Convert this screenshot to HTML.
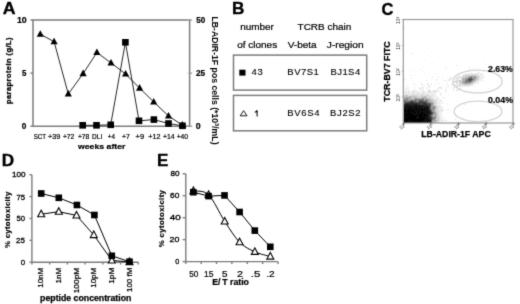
<!DOCTYPE html>
<html><head><meta charset="utf-8"><style>
html,body{margin:0;padding:0;background:#fff;width:520px;height:304px;overflow:hidden}
svg{display:block;font-family:"Liberation Sans",sans-serif;filter:grayscale(1)}

</style></head><body>
<svg width="520" height="304" viewBox="0 0 520 304">
<defs><filter id="soft" filterUnits="userSpaceOnUse" x="0" y="0" width="520" height="304" color-interpolation-filters="sRGB"><feConvolveMatrix order="3" kernelMatrix="1 6 1 6 36 6 1 6 1" divisor="64" edgeMode="duplicate" preserveAlpha="true"/></filter></defs>
<g filter="url(#soft)">
<rect width="520" height="304" fill="#fff"/>
<text x="2.7" y="14.4" font-size="16.8" font-weight="bold" textLength="12.8" lengthAdjust="spacingAndGlyphs" stroke="#000" stroke-width="0.35">A</text>
<path d="M33,20 H189.6 V126.2 H33 Z" fill="none" stroke="#7c7c7c" stroke-width="1.5"/>
<line x1="30.4" y1="20" x2="33" y2="20" stroke="#7c7c7c" stroke-width="1.4"/>
<line x1="189.6" y1="20" x2="192.2" y2="20" stroke="#7c7c7c" stroke-width="1.0"/>
<line x1="187.2" y1="20" x2="189.6" y2="20" stroke="#bbb" stroke-width="0.8"/>
<line x1="30.4" y1="73.1" x2="33" y2="73.1" stroke="#7c7c7c" stroke-width="1.4"/>
<line x1="189.6" y1="73.1" x2="192.2" y2="73.1" stroke="#7c7c7c" stroke-width="1.0"/>
<line x1="187.2" y1="73.1" x2="189.6" y2="73.1" stroke="#bbb" stroke-width="0.8"/>
<line x1="30.4" y1="126.2" x2="33" y2="126.2" stroke="#7c7c7c" stroke-width="1.4"/>
<line x1="189.6" y1="126.2" x2="192.2" y2="126.2" stroke="#7c7c7c" stroke-width="1.0"/>
<line x1="187.2" y1="126.2" x2="189.6" y2="126.2" stroke="#bbb" stroke-width="0.8"/>
<text x="16.9" y="22.8" font-size="8.5" font-weight="bold" textLength="9.8" lengthAdjust="spacingAndGlyphs" stroke="#000" stroke-width="0.2">10</text>
<text x="22.0" y="76.0" font-size="8.5" font-weight="bold" textLength="4.4" lengthAdjust="spacingAndGlyphs" stroke="#000" stroke-width="0.2">5</text>
<text x="21.7" y="129.0" font-size="8.5" font-weight="bold" textLength="4.6" lengthAdjust="spacingAndGlyphs" stroke="#000" stroke-width="0.2">0</text>
<text x="196.3" y="22.8" font-size="8.5" font-weight="bold" textLength="9.0" lengthAdjust="spacingAndGlyphs" stroke="#000" stroke-width="0.2">50</text>
<text x="195.9" y="75.8" font-size="8.5" font-weight="bold" textLength="9.2" lengthAdjust="spacingAndGlyphs" stroke="#000" stroke-width="0.2">25</text>
<text x="195.8" y="129.2" font-size="8.5" font-weight="bold" textLength="4.9" lengthAdjust="spacingAndGlyphs" stroke="#000" stroke-width="0.2">0</text>
<text x="33.7" y="138.8" font-size="7.9" textLength="12.4" lengthAdjust="spacingAndGlyphs" stroke="#000" stroke-width="0.22">SCT</text>
<text x="48.0" y="138.8" font-size="7.9" textLength="12.2" lengthAdjust="spacingAndGlyphs" stroke="#000" stroke-width="0.22">+39</text>
<text x="62.9" y="138.8" font-size="7.9" textLength="11.5" lengthAdjust="spacingAndGlyphs" stroke="#000" stroke-width="0.22">+72</text>
<text x="77.9" y="138.8" font-size="7.9" textLength="11.4" lengthAdjust="spacingAndGlyphs" stroke="#000" stroke-width="0.22">+78</text>
<text x="92.1" y="138.8" font-size="7.9" textLength="10.1" lengthAdjust="spacingAndGlyphs" stroke="#000" stroke-width="0.22">DLI</text>
<text x="107.7" y="138.8" font-size="7.9" textLength="7.2" lengthAdjust="spacingAndGlyphs" stroke="#000" stroke-width="0.22">+4</text>
<text x="121.9" y="138.8" font-size="7.9" textLength="7.9" lengthAdjust="spacingAndGlyphs" stroke="#000" stroke-width="0.22">+7</text>
<text x="135.5" y="138.8" font-size="7.9" textLength="8.6" lengthAdjust="spacingAndGlyphs" stroke="#000" stroke-width="0.22">+9</text>
<text x="148.2" y="138.8" font-size="7.9" textLength="12.2" lengthAdjust="spacingAndGlyphs" stroke="#000" stroke-width="0.22">+12</text>
<text x="163.0" y="138.8" font-size="7.9" textLength="11.7" lengthAdjust="spacingAndGlyphs" stroke="#000" stroke-width="0.22">+14</text>
<text x="176.7" y="138.8" font-size="7.9" textLength="11.4" lengthAdjust="spacingAndGlyphs" stroke="#000" stroke-width="0.22">+40</text>
<text x="78.0" y="149.1" font-size="7.6" font-weight="bold" textLength="47.4" lengthAdjust="spacingAndGlyphs" stroke="#000" stroke-width="0.2">weeks after</text>
<text transform="translate(10.90 104.09) rotate(-90)" font-size="7.4" font-weight="bold" stroke="#000" stroke-width="0.3" textLength="66.66" lengthAdjust="spacing">paraprotein (g/L)</text>
<text transform="translate(211.50 16.43) rotate(90)" font-size="8.6" font-weight="bold" textLength="128.11" lengthAdjust="spacingAndGlyphs">LB-ADIR-1F pos cells (*10<tspan font-size="5.5" dy="-3">3</tspan><tspan dy="3">/mL)</tspan></text>
<polyline points="40.3,34.2 54.1,41.7 68.3,94.0 83.1,73.6 96.9,52.5 111.0,62.9 125.6,74.0 139.6,88.1 153.7,101.9 168.5,116.0 182.3,125.0" fill="none" stroke="#000" stroke-width="0.85"/>
<polyline points="82.7,125.3 96.5,125.3 110.7,124.8 125.4,42.3 139.0,120.8 153.9,119.6 168.5,123.5 182.5,125.8" fill="none" stroke="#000" stroke-width="0.85"/>
<polygon points="40.3,30.2 43.9,36.8 36.7,36.8" fill="#000"/>
<polygon points="54.1,37.7 57.7,44.3 50.5,44.3" fill="#000"/>
<polygon points="68.3,90.0 71.9,96.6 64.7,96.6" fill="#000"/>
<polygon points="83.1,69.6 86.7,76.2 79.5,76.2" fill="#000"/>
<polygon points="96.9,48.5 100.5,55.1 93.3,55.1" fill="#000"/>
<polygon points="111.0,58.9 114.6,65.5 107.4,65.5" fill="#000"/>
<polygon points="125.6,70.0 129.2,76.6 122.0,76.6" fill="#000"/>
<polygon points="139.6,84.1 143.2,90.7 136.0,90.7" fill="#000"/>
<polygon points="153.7,97.9 157.3,104.5 150.1,104.5" fill="#000"/>
<polygon points="168.5,112.0 172.1,118.6 164.9,118.6" fill="#000"/>
<polygon points="182.3,121.0 185.9,127.6 178.7,127.6" fill="#000"/>
<rect x="79.4" y="122.0" width="6.6" height="6.6" fill="#000"/>
<rect x="93.2" y="122.0" width="6.6" height="6.6" fill="#000"/>
<rect x="107.4" y="121.5" width="6.6" height="6.6" fill="#000"/>
<rect x="122.1" y="39.0" width="6.6" height="6.6" fill="#000"/>
<rect x="135.7" y="117.5" width="6.6" height="6.6" fill="#000"/>
<rect x="150.6" y="116.3" width="6.6" height="6.6" fill="#000"/>
<rect x="165.2" y="120.2" width="6.6" height="6.6" fill="#000"/>
<rect x="179.2" y="122.5" width="6.6" height="6.6" fill="#000"/>
<text x="231.9" y="14.3" font-size="16.8" font-weight="bold" textLength="12.4" lengthAdjust="spacingAndGlyphs" stroke="#000" stroke-width="0.35">B</text>
<text x="240.2" y="29.7" font-size="8.6" textLength="33.7" lengthAdjust="spacingAndGlyphs" stroke="#000" stroke-width="0.2">number</text>
<text x="297.6" y="29.7" font-size="8.6" textLength="53.7" lengthAdjust="spacingAndGlyphs" stroke="#000" stroke-width="0.2">TCRB chain</text>
<text x="237.2" y="47.9" font-size="8.6" textLength="40.0" lengthAdjust="spacingAndGlyphs" stroke="#000" stroke-width="0.2">of clones</text>
<text x="287.7" y="48.2" font-size="8.6" textLength="29.0" lengthAdjust="spacingAndGlyphs" stroke="#000" stroke-width="0.2">V-beta</text>
<text x="326.8" y="48.2" font-size="8.6" textLength="36.8" lengthAdjust="spacingAndGlyphs" stroke="#000" stroke-width="0.2">J-region</text>
<rect x="233.5" y="55.1" width="133.2" height="35" fill="none" stroke="#7c7c7c" stroke-width="1.5"/>
<rect x="233.5" y="95.4" width="133.2" height="35.4" fill="none" stroke="#7c7c7c" stroke-width="1.5"/>
<rect x="239.3" y="69.7" width="6.2" height="5.9" fill="#000"/>
<text x="251.58" y="75.40" font-size="9.5" stroke="#000" stroke-width="0.12" textLength="11.34" lengthAdjust="spacing">43</text>
<text x="287.32" y="75.30" font-size="9.5" stroke="#000" stroke-width="0.12" textLength="31.55" lengthAdjust="spacing">BV7S1</text>
<text x="330.42" y="75.30" font-size="9.5" stroke="#000" stroke-width="0.12" textLength="29.76" lengthAdjust="spacing">BJ1S4</text>
<polygon points="243.6,110.7 247.0,115.8 240.2,115.8" fill="none" stroke="#000" stroke-width="0.9"/>
<path d="M257.1,110.3 V116.6 M257.0,110.6 Q256.2,111.8 254.8,112.3" fill="none" stroke="#000" stroke-width="1.05"/>
<text x="287.32" y="116.00" font-size="9.5" stroke="#000" stroke-width="0.12" textLength="32.26" lengthAdjust="spacing">BV6S4</text>
<text x="330.12" y="116.00" font-size="9.5" stroke="#000" stroke-width="0.12" textLength="30.46" lengthAdjust="spacing">BJ2S2</text>
<text x="381.6" y="14.6" font-size="16.8" font-weight="bold" textLength="11.9" lengthAdjust="spacingAndGlyphs" stroke="#000" stroke-width="0.35">C</text>
<defs><filter id="sb" x="-5%" y="-5%" width="110%" height="110%"><feGaussianBlur stdDeviation="0.45"/></filter><clipPath id="cc"><rect x="403.3" y="19.5" width="109.7" height="103.5"/></clipPath></defs>
<g clip-path="url(#cc)"><path d="M444 39h1v1h-1zM456 43h1v1h-1zM428 48h1v1h-1zM406 51h1v1h-1zM488 51h1v1h-1zM431 52h1v1h-1zM468 53h1v1h-1zM472 55h1v1h-1zM483 57h1v1h-1zM420 60h1v1h-1zM424 60h1v1h-1zM484 60h1v1h-1zM446 61h1v1h-1zM431 62h1v1h-1zM410 63h1v1h-1zM432 63h1v1h-1zM486 64h1v1h-1zM423 66h1v1h-1zM469 67h1v1h-1zM478 67h1v1h-1zM413 68h1v1h-1zM469 68h1v1h-1zM473 68h1v1h-1zM409 70h1v1h-1zM470 70h1v1h-1zM474 70h1v1h-1zM412 71h1v1h-1zM423 71h1v1h-1zM476 71h1v1h-1zM465 72h1v1h-1zM471 72h1v1h-1zM477 72h3v1h-3zM424 73h1v1h-1zM434 73h1v1h-1zM462 73h1v1h-1zM465 73h1v1h-1zM468 73h3v1h-3zM472 73h5v1h-5zM478 73h5v1h-5zM415 74h1v1h-1zM428 74h1v1h-1zM463 74h2v1h-2zM466 74h1v1h-1zM470 74h1v1h-1zM478 74h3v1h-3zM482 74h1v1h-1zM413 75h1v1h-1zM462 75h1v1h-1zM479 75h5v1h-5zM437 76h1v1h-1zM442 76h1v1h-1zM458 76h1v1h-1zM460 76h2v1h-2zM480 76h4v1h-4zM411 77h1v1h-1zM422 77h1v1h-1zM438 77h1v1h-1zM450 77h2v1h-2zM456 77h1v1h-1zM459 77h1v1h-1zM461 77h1v1h-1zM480 77h2v1h-2zM483 77h2v1h-2zM404 78h1v1h-1zM411 78h1v1h-1zM428 78h1v1h-1zM442 78h1v1h-1zM449 78h1v1h-1zM456 78h1v1h-1zM458 78h1v1h-1zM460 78h1v1h-1zM480 78h1v1h-1zM482 78h1v1h-1zM404 79h1v1h-1zM406 79h1v1h-1zM431 79h1v1h-1zM435 79h1v1h-1zM437 79h1v1h-1zM448 79h1v1h-1zM450 79h1v1h-1zM457 79h4v1h-4zM479 79h3v1h-3zM435 80h1v1h-1zM437 80h1v1h-1zM445 80h1v1h-1zM449 80h1v1h-1zM455 80h2v1h-2zM479 80h4v1h-4zM404 81h1v1h-1zM407 81h1v1h-1zM446 81h1v1h-1zM453 81h1v1h-1zM477 81h2v1h-2zM482 81h1v1h-1zM420 82h2v1h-2zM442 82h1v1h-1zM452 82h4v1h-4zM457 82h2v1h-2zM476 82h3v1h-3zM406 83h1v1h-1zM414 83h1v1h-1zM428 83h1v1h-1zM431 83h1v1h-1zM434 83h1v1h-1zM436 83h1v1h-1zM438 83h1v1h-1zM440 83h1v1h-1zM447 83h1v1h-1zM452 83h1v1h-1zM456 83h2v1h-2zM474 83h3v1h-3zM478 83h1v1h-1zM413 84h2v1h-2zM421 84h1v1h-1zM427 84h1v1h-1zM430 84h2v1h-2zM438 84h1v1h-1zM445 84h1v1h-1zM447 84h1v1h-1zM450 84h2v1h-2zM453 84h1v1h-1zM455 84h1v1h-1zM457 84h2v1h-2zM473 84h1v1h-1zM502 84h1v1h-1zM406 85h1v1h-1zM416 85h1v1h-1zM421 85h2v1h-2zM424 85h1v1h-1zM427 85h3v1h-3zM448 85h1v1h-1zM452 85h5v1h-5zM458 85h1v1h-1zM461 85h1v1h-1zM470 85h3v1h-3zM404 86h1v1h-1zM407 86h1v1h-1zM414 86h1v1h-1zM428 86h1v1h-1zM434 86h1v1h-1zM441 86h1v1h-1zM444 86h1v1h-1zM447 86h2v1h-2zM453 86h1v1h-1zM456 86h1v1h-1zM458 86h2v1h-2zM461 86h9v1h-9zM474 86h1v1h-1zM407 87h2v1h-2zM414 87h1v1h-1zM419 87h1v1h-1zM421 87h1v1h-1zM423 87h2v1h-2zM427 87h1v1h-1zM430 87h1v1h-1zM438 87h1v1h-1zM441 87h1v1h-1zM447 87h1v1h-1zM451 87h1v1h-1zM453 87h2v1h-2zM457 87h1v1h-1zM460 87h1v1h-1zM492 87h1v1h-1zM405 88h4v1h-4zM414 88h1v1h-1zM420 88h4v1h-4zM426 88h2v1h-2zM437 88h4v1h-4zM446 88h1v1h-1zM457 88h3v1h-3zM488 88h1v1h-1zM498 88h1v1h-1zM405 89h4v1h-4zM414 89h1v1h-1zM419 89h4v1h-4zM427 89h3v1h-3zM437 89h1v1h-1zM444 89h2v1h-2zM453 89h1v1h-1zM457 89h4v1h-4zM468 89h1v1h-1zM405 90h2v1h-2zM408 90h2v1h-2zM411 90h6v1h-6zM421 90h3v1h-3zM430 90h1v1h-1zM432 90h1v1h-1zM435 90h2v1h-2zM438 90h1v1h-1zM445 90h2v1h-2zM458 90h1v1h-1zM404 91h4v1h-4zM409 91h1v1h-1zM411 91h1v1h-1zM415 91h3v1h-3zM419 91h1v1h-1zM421 91h2v1h-2zM424 91h4v1h-4zM431 91h4v1h-4zM436 91h2v1h-2zM439 91h1v1h-1zM467 91h1v1h-1zM404 92h1v1h-1zM406 92h1v1h-1zM410 92h3v1h-3zM414 92h3v1h-3zM418 92h1v1h-1zM420 92h4v1h-4zM425 92h5v1h-5zM431 92h2v1h-2zM434 92h1v1h-1zM436 92h1v1h-1zM404 93h1v1h-1zM406 93h6v1h-6zM414 93h3v1h-3zM419 93h3v1h-3zM424 93h4v1h-4zM429 93h7v1h-7zM441 93h1v1h-1zM446 93h1v1h-1zM404 94h1v1h-1zM409 94h2v1h-2zM418 94h2v1h-2zM425 94h1v1h-1zM429 94h7v1h-7zM440 94h2v1h-2zM430 95h1v1h-1zM433 95h3v1h-3zM440 95h1v1h-1zM448 95h1v1h-1zM432 96h6v1h-6zM433 97h2v1h-2zM436 97h3v1h-3zM442 97h2v1h-2zM460 97h1v1h-1zM474 97h1v1h-1zM433 98h4v1h-4zM438 98h1v1h-1zM444 98h1v1h-1zM436 99h5v1h-5zM437 100h3v1h-3zM441 100h1v1h-1zM482 100h1v1h-1zM437 101h6v1h-6zM437 102h3v1h-3zM442 102h1v1h-1zM437 103h7v1h-7zM447 103h1v1h-1zM436 104h5v1h-5zM447 104h1v1h-1zM438 105h3v1h-3zM439 106h4v1h-4zM460 106h1v1h-1zM440 107h3v1h-3zM463 107h1v1h-1zM439 108h2v1h-2zM442 108h1v1h-1zM477 108h1v1h-1zM439 109h5v1h-5zM446 109h2v1h-2zM439 110h1v1h-1zM443 110h1v1h-1zM440 111h1v1h-1zM442 111h1v1h-1zM461 111h1v1h-1zM439 112h3v1h-3zM439 113h3v1h-3zM439 114h3v1h-3zM491 114h1v1h-1zM440 115h2v1h-2zM444 115h1v1h-1zM440 116h1v1h-1zM442 116h1v1h-1zM440 117h3v1h-3zM462 117h1v1h-1zM440 118h3v1h-3zM440 119h3v1h-3zM444 119h1v1h-1zM440 120h1v1h-1zM442 120h4v1h-4zM439 121h4v1h-4zM440 122h4v1h-4zM452 122h1v1h-1z" fill="#efefef"/><path d="M404 28h1v1h-1zM411 53h1v1h-1zM456 65h1v1h-1zM445 68h1v1h-1zM420 69h1v1h-1zM470 69h1v1h-1zM468 71h1v1h-1zM483 71h1v1h-1zM471 73h1v1h-1zM477 73h1v1h-1zM467 74h1v1h-1zM469 74h1v1h-1zM471 74h7v1h-7zM481 74h1v1h-1zM410 75h1v1h-1zM464 75h2v1h-2zM468 75h1v1h-1zM476 75h1v1h-1zM478 75h1v1h-1zM463 76h1v1h-1zM479 76h1v1h-1zM432 77h1v1h-1zM458 77h1v1h-1zM462 77h1v1h-1zM479 77h1v1h-1zM450 78h2v1h-2zM461 78h1v1h-1zM478 78h2v1h-2zM481 78h1v1h-1zM449 79h1v1h-1zM455 79h2v1h-2zM461 79h1v1h-1zM426 80h1v1h-1zM444 80h1v1h-1zM448 80h1v1h-1zM458 80h1v1h-1zM461 80h1v1h-1zM476 80h3v1h-3zM454 81h1v1h-1zM458 81h1v1h-1zM476 81h1v1h-1zM459 82h1v1h-1zM474 82h2v1h-2zM427 83h1v1h-1zM458 83h3v1h-3zM473 83h1v1h-1zM422 84h1v1h-1zM452 84h1v1h-1zM456 84h1v1h-1zM460 84h1v1h-1zM462 84h1v1h-1zM471 84h2v1h-2zM457 85h1v1h-1zM459 85h2v1h-2zM462 85h4v1h-4zM467 85h3v1h-3zM429 86h1v1h-1zM454 86h2v1h-2zM460 86h1v1h-1zM422 87h1v1h-1zM439 87h2v1h-2zM419 88h1v1h-1zM441 88h1v1h-1zM453 88h1v1h-1zM460 88h1v1h-1zM428 90h2v1h-2zM433 90h2v1h-2zM437 90h1v1h-1zM453 90h1v1h-1zM456 90h2v1h-2zM408 91h1v1h-1zM412 91h3v1h-3zM423 91h1v1h-1zM428 91h1v1h-1zM430 91h1v1h-1zM435 91h1v1h-1zM445 91h1v1h-1zM405 92h1v1h-1zM407 92h3v1h-3zM413 92h1v1h-1zM417 92h1v1h-1zM419 92h1v1h-1zM424 92h1v1h-1zM430 92h1v1h-1zM433 92h1v1h-1zM435 92h1v1h-1zM405 93h1v1h-1zM412 93h2v1h-2zM417 93h2v1h-2zM422 93h2v1h-2zM428 93h1v1h-1zM440 93h1v1h-1zM405 94h4v1h-4zM411 94h7v1h-7zM420 94h5v1h-5zM426 94h3v1h-3zM408 95h4v1h-4zM414 95h1v1h-1zM416 95h1v1h-1zM418 95h4v1h-4zM423 95h4v1h-4zM428 95h2v1h-2zM431 95h2v1h-2zM418 96h2v1h-2zM427 96h2v1h-2zM430 96h2v1h-2zM427 97h1v1h-1zM430 97h3v1h-3zM431 98h2v1h-2zM437 98h1v1h-1zM433 99h3v1h-3zM434 100h3v1h-3zM440 100h1v1h-1zM434 101h3v1h-3zM435 102h2v1h-2zM434 103h1v1h-1zM436 103h1v1h-1zM435 104h1v1h-1zM464 104h1v1h-1zM436 105h2v1h-2zM437 106h2v1h-2zM437 107h3v1h-3zM437 108h2v1h-2zM441 108h1v1h-1zM438 109h1v1h-1zM448 109h1v1h-1zM436 110h3v1h-3zM440 110h3v1h-3zM436 111h1v1h-1zM438 111h2v1h-2zM441 111h1v1h-1zM438 112h1v1h-1zM438 113h1v1h-1zM438 114h1v1h-1zM438 115h2v1h-2zM438 116h2v1h-2zM439 117h1v1h-1zM439 118h1v1h-1zM439 119h1v1h-1zM455 119h1v1h-1zM439 120h1v1h-1zM441 120h1v1h-1zM446 120h1v1h-1zM438 121h1v1h-1zM438 122h2v1h-2z" fill="#dfdfdf"/><path d="M465 74h1v1h-1zM468 74h1v1h-1zM463 75h1v1h-1zM466 75h2v1h-2zM469 75h3v1h-3zM474 75h1v1h-1zM477 75h1v1h-1zM459 76h1v1h-1zM462 76h1v1h-1zM464 76h2v1h-2zM467 76h1v1h-1zM476 76h3v1h-3zM457 77h1v1h-1zM460 77h1v1h-1zM463 77h2v1h-2zM478 77h1v1h-1zM457 78h1v1h-1zM477 78h1v1h-1zM477 79h2v1h-2zM457 80h1v1h-1zM459 80h2v1h-2zM455 81h3v1h-3zM459 81h1v1h-1zM461 81h1v1h-1zM475 81h1v1h-1zM460 82h2v1h-2zM473 82h1v1h-1zM461 83h1v1h-1zM471 83h2v1h-2zM459 84h1v1h-1zM461 84h1v1h-1zM463 84h2v1h-2zM467 84h4v1h-4zM466 85h1v1h-1zM457 86h1v1h-1zM429 91h1v1h-1zM404 95h2v1h-2zM407 95h1v1h-1zM412 95h2v1h-2zM415 95h1v1h-1zM417 95h1v1h-1zM422 95h1v1h-1zM427 95h1v1h-1zM408 96h1v1h-1zM412 96h1v1h-1zM415 96h3v1h-3zM420 96h4v1h-4zM426 96h1v1h-1zM429 96h1v1h-1zM412 97h2v1h-2zM417 97h5v1h-5zM428 97h2v1h-2zM413 98h1v1h-1zM428 98h1v1h-1zM430 98h1v1h-1zM431 99h2v1h-2zM433 100h1v1h-1zM432 101h2v1h-2zM434 102h1v1h-1zM435 103h1v1h-1zM434 104h1v1h-1zM435 105h1v1h-1zM436 106h1v1h-1zM436 107h1v1h-1zM436 108h1v1h-1zM436 109h2v1h-2zM435 110h1v1h-1zM437 111h1v1h-1zM436 112h2v1h-2zM437 113h1v1h-1zM437 114h1v1h-1zM437 115h1v1h-1zM437 116h1v1h-1zM437 117h2v1h-2zM436 118h3v1h-3zM436 119h3v1h-3zM437 120h2v1h-2zM437 121h1v1h-1zM435 122h3v1h-3z" fill="#cfcfcf"/><path d="M472 75h2v1h-2zM475 75h1v1h-1zM466 76h1v1h-1zM466 77h1v1h-1zM477 77h1v1h-1zM465 78h1v1h-1zM476 78h1v1h-1zM462 79h1v1h-1zM476 79h1v1h-1zM462 80h1v1h-1zM475 80h1v1h-1zM473 81h2v1h-2zM456 82h1v1h-1zM472 82h1v1h-1zM462 83h1v1h-1zM470 83h1v1h-1zM465 84h2v1h-2zM406 95h1v1h-1zM404 96h4v1h-4zM409 96h1v1h-1zM411 96h1v1h-1zM413 96h2v1h-2zM424 96h2v1h-2zM405 97h1v1h-1zM411 97h1v1h-1zM414 97h1v1h-1zM416 97h1v1h-1zM426 97h1v1h-1zM410 98h3v1h-3zM420 98h1v1h-1zM426 98h2v1h-2zM429 98h1v1h-1zM429 99h2v1h-2zM431 100h2v1h-2zM431 101h1v1h-1zM433 104h1v1h-1zM433 105h2v1h-2zM435 109h1v1h-1zM435 111h1v1h-1zM436 113h1v1h-1zM436 114h1v1h-1zM436 117h1v1h-1zM435 121h2v1h-2z" fill="#bfbfbf"/><path d="M468 76h2v1h-2zM472 76h4v1h-4zM465 77h1v1h-1zM467 77h2v1h-2zM476 77h1v1h-1zM462 78h3v1h-3zM475 78h1v1h-1zM463 79h2v1h-2zM475 79h1v1h-1zM464 80h1v1h-1zM474 80h1v1h-1zM460 81h1v1h-1zM462 81h2v1h-2zM472 81h1v1h-1zM462 82h1v1h-1zM463 83h2v1h-2zM466 83h4v1h-4zM410 96h1v1h-1zM404 97h1v1h-1zM406 97h1v1h-1zM408 97h3v1h-3zM415 97h1v1h-1zM422 97h4v1h-4zM405 98h1v1h-1zM414 98h1v1h-1zM417 98h3v1h-3zM421 98h1v1h-1zM424 98h2v1h-2zM408 99h1v1h-1zM410 99h1v1h-1zM413 99h1v1h-1zM424 99h2v1h-2zM428 99h1v1h-1zM429 100h2v1h-2zM429 101h2v1h-2zM432 102h2v1h-2zM433 103h1v1h-1zM435 106h1v1h-1zM435 107h1v1h-1zM435 108h1v1h-1zM434 110h1v1h-1zM435 112h1v1h-1zM433 115h4v1h-4zM433 116h1v1h-1zM436 116h1v1h-1zM435 119h1v1h-1zM433 120h1v1h-1zM436 120h1v1h-1zM433 121h2v1h-2zM434 122h1v1h-1z" fill="#afafaf"/><path d="M470 76h2v1h-2zM472 77h2v1h-2zM466 78h1v1h-1zM474 78h1v1h-1zM465 79h1v1h-1zM474 79h1v1h-1zM463 80h1v1h-1zM473 80h1v1h-1zM464 81h1v1h-1zM463 82h2v1h-2zM470 82h2v1h-2zM465 83h1v1h-1zM407 97h1v1h-1zM404 98h1v1h-1zM408 98h2v1h-2zM415 98h2v1h-2zM423 98h1v1h-1zM409 99h1v1h-1zM411 99h2v1h-2zM414 99h1v1h-1zM408 100h2v1h-2zM428 100h1v1h-1zM428 101h1v1h-1zM430 102h2v1h-2zM432 103h1v1h-1zM432 105h1v1h-1zM432 106h3v1h-3zM431 107h2v1h-2zM434 108h1v1h-1zM434 109h1v1h-1zM432 110h2v1h-2zM434 111h1v1h-1zM434 113h2v1h-2zM433 114h3v1h-3zM434 116h2v1h-2zM435 118h1v1h-1zM434 120h2v1h-2zM432 121h1v1h-1z" fill="#9f9f9f"/><path d="M469 77h1v1h-1zM474 77h2v1h-2zM467 78h1v1h-1zM472 78h2v1h-2zM465 80h1v1h-1zM472 80h1v1h-1zM471 81h1v1h-1zM465 82h1v1h-1zM467 82h2v1h-2zM406 98h2v1h-2zM422 98h1v1h-1zM404 99h2v1h-2zM407 99h1v1h-1zM417 99h1v1h-1zM426 99h2v1h-2zM407 100h1v1h-1zM417 100h1v1h-1zM424 100h1v1h-1zM417 101h1v1h-1zM427 101h1v1h-1zM429 102h1v1h-1zM431 103h1v1h-1zM431 104h2v1h-2zM431 105h1v1h-1zM431 106h1v1h-1zM434 107h1v1h-1zM431 108h3v1h-3zM432 109h2v1h-2zM432 111h2v1h-2zM434 112h1v1h-1zM433 113h1v1h-1zM432 115h1v1h-1zM432 116h1v1h-1zM434 117h2v1h-2zM433 119h2v1h-2zM432 120h1v1h-1zM432 122h2v1h-2z" fill="#8f8f8f"/><path d="M470 77h1v1h-1zM468 78h1v1h-1zM466 79h2v1h-2zM473 79h1v1h-1zM466 80h1v1h-1zM465 81h2v1h-2zM468 81h1v1h-1zM466 82h1v1h-1zM469 82h1v1h-1zM406 99h1v1h-1zM415 99h2v1h-2zM418 99h4v1h-4zM423 99h1v1h-1zM405 100h2v1h-2zM410 100h5v1h-5zM416 100h1v1h-1zM418 100h1v1h-1zM423 100h1v1h-1zM425 100h1v1h-1zM427 100h1v1h-1zM407 101h1v1h-1zM416 101h1v1h-1zM427 102h2v1h-2zM431 109h1v1h-1zM433 112h1v1h-1zM433 117h1v1h-1zM434 118h1v1h-1zM432 119h1v1h-1z" fill="#808080"/><path d="M471 77h1v1h-1zM470 78h1v1h-1zM472 79h1v1h-1zM467 80h2v1h-2zM471 80h1v1h-1zM469 81h2v1h-2zM422 99h1v1h-1zM404 100h1v1h-1zM415 100h1v1h-1zM419 100h1v1h-1zM426 100h1v1h-1zM405 101h2v1h-2zM408 101h1v1h-1zM414 101h1v1h-1zM418 101h1v1h-1zM426 101h1v1h-1zM430 103h1v1h-1zM430 107h1v1h-1zM433 107h1v1h-1zM430 108h1v1h-1zM431 110h1v1h-1zM432 114h1v1h-1zM431 115h1v1h-1zM431 116h1v1h-1zM432 117h1v1h-1zM433 118h1v1h-1z" fill="#707070"/><path d="M469 78h1v1h-1zM471 78h1v1h-1zM468 79h1v1h-1zM467 81h1v1h-1zM420 100h3v1h-3zM404 101h1v1h-1zM409 101h1v1h-1zM415 101h1v1h-1zM423 101h3v1h-3zM404 102h1v1h-1zM417 102h1v1h-1zM426 102h1v1h-1zM404 103h1v1h-1zM428 103h2v1h-2zM430 104h1v1h-1zM430 105h1v1h-1zM430 106h1v1h-1zM430 109h1v1h-1zM431 111h1v1h-1zM432 112h1v1h-1zM432 113h1v1h-1zM432 118h1v1h-1z" fill="#606060"/><path d="M471 79h1v1h-1zM469 80h1v1h-1zM410 101h1v1h-1zM413 101h1v1h-1zM419 101h4v1h-4zM405 102h4v1h-4zM414 102h3v1h-3zM418 102h1v1h-1zM421 103h1v1h-1zM427 103h1v1h-1zM428 104h1v1h-1zM431 114h1v1h-1zM430 115h1v1h-1zM431 117h1v1h-1zM431 120h1v1h-1zM431 121h1v1h-1zM431 122h1v1h-1z" fill="#505050"/><path d="M469 79h2v1h-2zM470 80h1v1h-1zM411 101h2v1h-2zM409 102h2v1h-2zM413 102h1v1h-1zM419 102h7v1h-7zM405 103h1v1h-1zM417 103h4v1h-4zM422 103h1v1h-1zM425 103h2v1h-2zM404 104h1v1h-1zM420 104h3v1h-3zM427 104h1v1h-1zM429 104h1v1h-1zM428 105h2v1h-2zM429 106h1v1h-1zM429 108h1v1h-1zM430 110h1v1h-1zM431 112h1v1h-1zM431 113h1v1h-1zM430 116h1v1h-1zM431 118h1v1h-1zM431 119h1v1h-1z" fill="#404040"/><path d="M411 102h2v1h-2zM406 103h11v1h-11zM423 103h2v1h-2zM411 104h1v1h-1zM417 104h3v1h-3zM423 104h4v1h-4zM424 105h4v1h-4zM428 106h1v1h-1zM429 107h1v1h-1zM429 109h1v1h-1zM429 110h1v1h-1zM430 111h1v1h-1zM430 114h1v1h-1zM429 115h1v1h-1zM429 116h1v1h-1zM430 117h1v1h-1zM430 118h1v1h-1zM430 119h1v1h-1z" fill="#303030"/><path d="M405 104h1v1h-1zM407 104h4v1h-4zM412 104h5v1h-5zM404 105h2v1h-2zM408 105h2v1h-2zM411 105h4v1h-4zM417 105h7v1h-7zM406 106h1v1h-1zM423 106h3v1h-3zM427 106h1v1h-1zM423 107h1v1h-1zM428 107h1v1h-1zM428 108h1v1h-1zM429 111h1v1h-1zM429 112h2v1h-2zM429 113h2v1h-2zM428 114h2v1h-2zM428 115h1v1h-1zM428 116h1v1h-1zM428 117h2v1h-2zM428 118h2v1h-2zM429 119h1v1h-1zM430 120h1v1h-1zM430 121h1v1h-1zM430 122h1v1h-1z" fill="#202020"/><path d="M406 104h1v1h-1zM406 105h2v1h-2zM410 105h1v1h-1zM415 105h2v1h-2zM404 106h2v1h-2zM407 106h16v1h-16zM426 106h1v1h-1zM404 107h4v1h-4zM409 107h7v1h-7zM417 107h6v1h-6zM424 107h4v1h-4zM404 108h4v1h-4zM409 108h6v1h-6zM416 108h12v1h-12zM406 109h2v1h-2zM409 109h1v1h-1zM412 109h4v1h-4zM417 109h2v1h-2zM420 109h1v1h-1zM423 109h1v1h-1zM425 109h4v1h-4zM406 110h2v1h-2zM411 110h1v1h-1zM414 110h2v1h-2zM417 110h5v1h-5zM423 110h6v1h-6zM410 111h2v1h-2zM415 111h3v1h-3zM419 111h10v1h-10zM405 112h2v1h-2zM410 112h3v1h-3zM415 112h3v1h-3zM419 112h2v1h-2zM423 112h6v1h-6zM404 113h3v1h-3zM412 113h3v1h-3zM416 113h5v1h-5zM423 113h6v1h-6zM409 114h1v1h-1zM413 114h4v1h-4zM421 114h1v1h-1zM423 114h1v1h-1zM425 114h3v1h-3zM414 115h1v1h-1zM417 115h2v1h-2zM427 115h1v1h-1zM405 116h1v1h-1zM407 116h1v1h-1zM417 116h2v1h-2zM422 116h6v1h-6zM405 117h2v1h-2zM416 117h3v1h-3zM423 117h1v1h-1zM425 117h3v1h-3zM404 118h1v1h-1zM416 118h2v1h-2zM419 118h1v1h-1zM425 118h3v1h-3zM424 119h5v1h-5zM408 120h2v1h-2zM417 120h1v1h-1zM420 120h1v1h-1zM424 120h6v1h-6zM404 121h1v1h-1zM409 121h3v1h-3zM413 121h2v1h-2zM422 121h8v1h-8zM405 122h1v1h-1zM407 122h4v1h-4zM412 122h2v1h-2zM417 122h1v1h-1zM419 122h1v1h-1zM422 122h5v1h-5zM428 122h2v1h-2z" fill="#101010"/><path d="M408 107h1v1h-1zM416 107h1v1h-1zM408 108h1v1h-1zM415 108h1v1h-1zM404 109h2v1h-2zM408 109h1v1h-1zM410 109h2v1h-2zM416 109h1v1h-1zM419 109h1v1h-1zM421 109h2v1h-2zM424 109h1v1h-1zM404 110h2v1h-2zM408 110h3v1h-3zM412 110h2v1h-2zM416 110h1v1h-1zM422 110h1v1h-1zM404 111h6v1h-6zM412 111h3v1h-3zM418 111h1v1h-1zM404 112h1v1h-1zM407 112h3v1h-3zM413 112h2v1h-2zM418 112h1v1h-1zM421 112h2v1h-2zM407 113h5v1h-5zM415 113h1v1h-1zM421 113h2v1h-2zM404 114h5v1h-5zM410 114h3v1h-3zM417 114h4v1h-4zM422 114h1v1h-1zM424 114h1v1h-1zM404 115h10v1h-10zM415 115h2v1h-2zM419 115h8v1h-8zM404 116h1v1h-1zM406 116h1v1h-1zM408 116h9v1h-9zM419 116h3v1h-3zM404 117h1v1h-1zM407 117h9v1h-9zM419 117h4v1h-4zM424 117h1v1h-1zM405 118h11v1h-11zM418 118h1v1h-1zM420 118h5v1h-5zM404 119h20v1h-20zM404 120h4v1h-4zM410 120h7v1h-7zM418 120h2v1h-2zM421 120h3v1h-3zM405 121h4v1h-4zM412 121h1v1h-1zM415 121h7v1h-7zM404 122h1v1h-1zM406 122h1v1h-1zM411 122h1v1h-1zM414 122h3v1h-3zM418 122h1v1h-1zM420 122h2v1h-2zM427 122h1v1h-1z" fill="#000000"/></g>
<rect x="403.3" y="19.5" width="109.7" height="103.5" fill="none" stroke="#999" stroke-width="1.2"/>
<ellipse cx="477.5" cy="81.5" rx="24.6" ry="11.4" fill="none" stroke="#d4d4d4" stroke-width="1.3"/>
<ellipse cx="478" cy="111.4" rx="23.9" ry="10.3" fill="none" stroke="#d4d4d4" stroke-width="1.3"/>
<text x="488.1" y="71.6" font-size="8.4" font-weight="bold" textLength="24.7" lengthAdjust="spacingAndGlyphs" stroke="#000" stroke-width="0.2">2.63%</text>
<text x="488.0" y="103.2" font-size="8.4" font-weight="bold" textLength="25.0" lengthAdjust="spacingAndGlyphs" stroke="#000" stroke-width="0.2">0.04%</text>
<text x="421.3" y="137.4" font-size="8.6" font-weight="bold" textLength="69.4" lengthAdjust="spacingAndGlyphs" stroke="#000" stroke-width="0.25">LB-ADIR-1F APC</text>
<text transform="translate(390.20 101.70) rotate(-90)" font-size="8.8" font-weight="bold" stroke="#000" stroke-width="0.25" textLength="60.44" lengthAdjust="spacingAndGlyphs">TCR-BV7 FITC</text>
<text transform="translate(400.4 97.9) rotate(-90)" font-size="4.9" text-anchor="middle" fill="#333">10<tspan font-size="3.4" dy="-1.8">1</tspan></text>
<line x1="401.6" y1="97.125" x2="403.3" y2="97.125" stroke="#aaa" stroke-width="0.8"/>
<text transform="translate(400.4 72.0) rotate(-90)" font-size="4.9" text-anchor="middle" fill="#333">10<tspan font-size="3.4" dy="-1.8">2</tspan></text>
<line x1="401.6" y1="71.25" x2="403.3" y2="71.25" stroke="#aaa" stroke-width="0.8"/>
<text transform="translate(400.4 46.2) rotate(-90)" font-size="4.9" text-anchor="middle" fill="#333">10<tspan font-size="3.4" dy="-1.8">3</tspan></text>
<line x1="401.6" y1="45.375" x2="403.3" y2="45.375" stroke="#aaa" stroke-width="0.8"/>
<text transform="translate(400.4 20.3) rotate(-90)" font-size="4.9" text-anchor="middle" fill="#333">10<tspan font-size="3.4" dy="-1.8">4</tspan></text>
<line x1="401.6" y1="19.5" x2="403.3" y2="19.5" stroke="#aaa" stroke-width="0.8"/>
<text transform="translate(403.6 127.6) rotate(-35)" font-size="4.9" text-anchor="middle" fill="#444">10<tspan font-size="3.4" dy="-1.8">0</tspan></text>
<line x1="403.3" y1="123.0" x2="403.3" y2="125.4" stroke="#666" stroke-width="0.9"/>
<text transform="translate(431.0 127.6) rotate(-35)" font-size="4.9" text-anchor="middle" fill="#444">10<tspan font-size="3.4" dy="-1.8">1</tspan></text>
<line x1="430.725" y1="123.0" x2="430.725" y2="125.4" stroke="#666" stroke-width="0.9"/>
<text transform="translate(458.4 127.6) rotate(-35)" font-size="4.9" text-anchor="middle" fill="#444">10<tspan font-size="3.4" dy="-1.8">2</tspan></text>
<line x1="458.15" y1="123.0" x2="458.15" y2="125.4" stroke="#666" stroke-width="0.9"/>
<text transform="translate(485.9 127.6) rotate(-35)" font-size="4.9" text-anchor="middle" fill="#444">10<tspan font-size="3.4" dy="-1.8">3</tspan></text>
<line x1="485.575" y1="123.0" x2="485.575" y2="125.4" stroke="#666" stroke-width="0.9"/>
<text transform="translate(513.3 127.6) rotate(-35)" font-size="4.9" text-anchor="middle" fill="#444">10<tspan font-size="3.4" dy="-1.8">4</tspan></text>
<line x1="513.0" y1="123.0" x2="513.0" y2="125.4" stroke="#666" stroke-width="0.9"/>
<text x="1.7" y="165.9" font-size="16.8" font-weight="bold" textLength="12.4" lengthAdjust="spacingAndGlyphs" stroke="#000" stroke-width="0.35">D</text>
<line x1="31.9" y1="174.7" x2="31.9" y2="262.2" stroke="#7c7c7c" stroke-width="1.4"/>
<line x1="31.9" y1="262.2" x2="138.3" y2="262.2" stroke="#7c7c7c" stroke-width="1.4"/>
<line x1="29.4" y1="174.7" x2="31.9" y2="174.7" stroke="#7c7c7c" stroke-width="1.4"/>
<line x1="29.4" y1="196.575" x2="31.9" y2="196.575" stroke="#7c7c7c" stroke-width="1.4"/>
<line x1="29.4" y1="218.45" x2="31.9" y2="218.45" stroke="#7c7c7c" stroke-width="1.4"/>
<line x1="29.4" y1="240.325" x2="31.9" y2="240.325" stroke="#7c7c7c" stroke-width="1.4"/>
<line x1="29.4" y1="262.2" x2="31.9" y2="262.2" stroke="#7c7c7c" stroke-width="1.4"/>
<line x1="31.9" y1="262.2" x2="31.9" y2="264.6" stroke="#7c7c7c" stroke-width="1.4"/>
<line x1="49.63333333333333" y1="262.2" x2="49.63333333333333" y2="264.6" stroke="#7c7c7c" stroke-width="1.4"/>
<line x1="67.36666666666667" y1="262.2" x2="67.36666666666667" y2="264.6" stroke="#7c7c7c" stroke-width="1.4"/>
<line x1="85.10000000000001" y1="262.2" x2="85.10000000000001" y2="264.6" stroke="#7c7c7c" stroke-width="1.4"/>
<line x1="102.83333333333334" y1="262.2" x2="102.83333333333334" y2="264.6" stroke="#7c7c7c" stroke-width="1.4"/>
<line x1="120.56666666666666" y1="262.2" x2="120.56666666666666" y2="264.6" stroke="#7c7c7c" stroke-width="1.4"/>
<line x1="138.3" y1="262.2" x2="138.3" y2="264.6" stroke="#7c7c7c" stroke-width="1.4"/>
<text x="11.9" y="176.9" font-size="7.6" textLength="13.6" lengthAdjust="spacingAndGlyphs" stroke="#000" stroke-width="0.3">100</text>
<text x="16.4" y="199.6" font-size="7.6" textLength="8.6" lengthAdjust="spacingAndGlyphs" stroke="#000" stroke-width="0.3">75</text>
<text x="16.5" y="221.2" font-size="7.6" textLength="8.5" lengthAdjust="spacingAndGlyphs" stroke="#000" stroke-width="0.3">50</text>
<text x="16.1" y="243.0" font-size="7.6" textLength="8.9" lengthAdjust="spacingAndGlyphs" stroke="#000" stroke-width="0.3">25</text>
<text x="20.7" y="264.6" font-size="7.6" textLength="4.4" lengthAdjust="spacingAndGlyphs" stroke="#000" stroke-width="0.3">0</text>
<text transform="translate(43.10 287.81) rotate(-90)" font-size="7.2" stroke="#000" stroke-width="0.25" textLength="20.07" lengthAdjust="spacingAndGlyphs">10nM</text>
<text transform="translate(60.80 283.41) rotate(-90)" font-size="7.2" stroke="#000" stroke-width="0.25" textLength="15.68" lengthAdjust="spacingAndGlyphs">1nM</text>
<text transform="translate(78.50 293.34) rotate(-90)" font-size="7.2" stroke="#000" stroke-width="0.25" textLength="25.62" lengthAdjust="spacingAndGlyphs">100pM</text>
<text transform="translate(96.20 287.81) rotate(-90)" font-size="7.2" stroke="#000" stroke-width="0.25" textLength="20.07" lengthAdjust="spacingAndGlyphs">10pM</text>
<text transform="translate(113.90 283.73) rotate(-90)" font-size="7.2" stroke="#000" stroke-width="0.25" textLength="16.00" lengthAdjust="spacingAndGlyphs">1pM</text>
<text transform="translate(131.60 292.00) rotate(-90)" font-size="7.2" stroke="#000" stroke-width="0.25" textLength="24.25" lengthAdjust="spacingAndGlyphs">100 fM</text>
<text x="40.1" y="301.0" font-size="8.2" font-weight="bold" textLength="91.3" lengthAdjust="spacingAndGlyphs" stroke="#000" stroke-width="0.25">peptide concentration</text>
<text transform="translate(9.70 248.00) rotate(-90)" font-size="7.8" font-weight="bold" stroke="#000" stroke-width="0.15" textLength="56.34" lengthAdjust="spacing">% cytotoxicity</text>
<polyline points="41.2,214.2 58.8,211.7 76.5,215.4 93.8,235.0 111.8,260.4 129.5,262.0" fill="none" stroke="#000" stroke-width="1.0"/>
<polyline points="41.2,193.5 58.8,197.8 76.9,205.0 94.4,215.0 111.8,255.8 129.5,261.7" fill="none" stroke="#000" stroke-width="1.0"/>
<polygon points="41.2,210.2 44.7,216.8 37.7,216.8" fill="#fff" stroke="#000" stroke-width="1.1"/>
<polygon points="58.8,207.7 62.3,214.3 55.3,214.3" fill="#fff" stroke="#000" stroke-width="1.1"/>
<polygon points="76.5,211.4 80.0,218.0 73.0,218.0" fill="#fff" stroke="#000" stroke-width="1.1"/>
<polygon points="93.8,231.0 97.3,237.6 90.3,237.6" fill="#fff" stroke="#000" stroke-width="1.1"/>
<polygon points="111.8,256.4 115.3,263.0 108.3,263.0" fill="#fff" stroke="#000" stroke-width="1.1"/>
<polygon points="129.5,258.0 133.0,264.6 126.0,264.6" fill="#fff" stroke="#000" stroke-width="1.1"/>
<rect x="37.9" y="190.2" width="6.6" height="6.6" fill="#000"/>
<rect x="55.5" y="194.5" width="6.6" height="6.6" fill="#000"/>
<rect x="73.6" y="201.7" width="6.6" height="6.6" fill="#000"/>
<rect x="91.1" y="211.7" width="6.6" height="6.6" fill="#000"/>
<rect x="108.5" y="252.5" width="6.6" height="6.6" fill="#000"/>
<rect x="126.2" y="258.4" width="6.6" height="6.6" fill="#000"/>
<text x="156.9" y="166.0" font-size="16.8" font-weight="bold" textLength="11.4" lengthAdjust="spacingAndGlyphs" stroke="#000" stroke-width="0.35">E</text>
<line x1="185.8" y1="173.7" x2="185.8" y2="261.6" stroke="#7c7c7c" stroke-width="1.4"/>
<line x1="185.8" y1="261.6" x2="278.0" y2="261.6" stroke="#7c7c7c" stroke-width="1.4"/>
<line x1="182.6" y1="173.7" x2="185.8" y2="173.7" stroke="#7c7c7c" stroke-width="1.4"/>
<line x1="182.6" y1="195.675" x2="185.8" y2="195.675" stroke="#7c7c7c" stroke-width="1.4"/>
<line x1="182.6" y1="217.65" x2="185.8" y2="217.65" stroke="#7c7c7c" stroke-width="1.4"/>
<line x1="182.6" y1="239.625" x2="185.8" y2="239.625" stroke="#7c7c7c" stroke-width="1.4"/>
<line x1="182.6" y1="261.6" x2="185.8" y2="261.6" stroke="#7c7c7c" stroke-width="1.4"/>
<line x1="185.8" y1="261.6" x2="185.8" y2="264.0" stroke="#7c7c7c" stroke-width="1.4"/>
<line x1="201.16666666666669" y1="261.6" x2="201.16666666666669" y2="264.0" stroke="#7c7c7c" stroke-width="1.4"/>
<line x1="216.53333333333333" y1="261.6" x2="216.53333333333333" y2="264.0" stroke="#7c7c7c" stroke-width="1.4"/>
<line x1="231.9" y1="261.6" x2="231.9" y2="264.0" stroke="#7c7c7c" stroke-width="1.4"/>
<line x1="247.26666666666668" y1="261.6" x2="247.26666666666668" y2="264.0" stroke="#7c7c7c" stroke-width="1.4"/>
<line x1="262.6333333333333" y1="261.6" x2="262.6333333333333" y2="264.0" stroke="#7c7c7c" stroke-width="1.4"/>
<line x1="278.0" y1="261.6" x2="278.0" y2="264.0" stroke="#7c7c7c" stroke-width="1.4"/>
<text x="170.4" y="175.8" font-size="7.2" textLength="9.0" lengthAdjust="spacingAndGlyphs" stroke="#000" stroke-width="0.3">80</text>
<text x="170.1" y="198.3" font-size="7.2" textLength="9.3" lengthAdjust="spacingAndGlyphs" stroke="#000" stroke-width="0.3">60</text>
<text x="169.8" y="220.3" font-size="7.2" textLength="10.9" lengthAdjust="spacingAndGlyphs" stroke="#000" stroke-width="0.3">40</text>
<text x="169.6" y="242.0" font-size="7.2" textLength="9.8" lengthAdjust="spacingAndGlyphs" stroke="#000" stroke-width="0.3">20</text>
<text x="175.3" y="263.8" font-size="7.2" textLength="4.0" lengthAdjust="spacingAndGlyphs" stroke="#000" stroke-width="0.3">0</text>
<text x="189.2" y="276.8" font-size="8.3" textLength="9.2" lengthAdjust="spacingAndGlyphs" stroke="#000" stroke-width="0.2">50</text>
<text x="204.1" y="276.8" font-size="8.3" textLength="9.5" lengthAdjust="spacingAndGlyphs" stroke="#000" stroke-width="0.2">15</text>
<text x="221.9" y="276.8" font-size="8.3" textLength="5.5" lengthAdjust="spacingAndGlyphs" stroke="#000" stroke-width="0.2">5</text>
<text x="237.0" y="276.8" font-size="8.3" textLength="6.0" lengthAdjust="spacingAndGlyphs" stroke="#000" stroke-width="0.2">2</text>
<text x="250.8" y="276.8" font-size="8.3" textLength="9.6" lengthAdjust="spacingAndGlyphs" stroke="#000" stroke-width="0.2">.5</text>
<text x="266.2" y="276.8" font-size="8.3" textLength="8.4" lengthAdjust="spacingAndGlyphs" stroke="#000" stroke-width="0.2">.2</text>
<text x="212.2" y="284.6" font-size="8.2" font-weight="bold" textLength="36.8" lengthAdjust="spacingAndGlyphs" stroke="#000" stroke-width="0.2">E/&#8201;T ratio</text>
<text transform="translate(163.50 247.29) rotate(-90)" font-size="7.8" font-weight="bold" stroke="#000" stroke-width="0.15" textLength="57.24" lengthAdjust="spacing">% cytotoxicity</text>
<path d="M193.4,191.0 C195.9,191.6 203.4,189.7 208.6,194.8 C213.8,199.9 219.5,213.5 224.7,221.4 C229.9,229.3 234.6,237.1 239.6,242.2 C244.6,247.3 249.7,249.4 254.8,251.8 C259.9,254.2 267.7,255.7 270.3,256.5" fill="none" stroke="#000" stroke-width="1.0"/>
<polyline points="193.3,192.2 208.6,196.1 224.5,195.4 239.6,212.0 254.8,230.6 270.3,246.8" fill="none" stroke="#000" stroke-width="1.0"/>
<polygon points="193.4,187.0 196.9,193.6 189.9,193.6" fill="#fff" stroke="#000" stroke-width="1.1"/>
<polygon points="208.6,190.8 212.1,197.4 205.1,197.4" fill="#fff" stroke="#000" stroke-width="1.1"/>
<polygon points="224.7,217.4 228.2,224.0 221.2,224.0" fill="#fff" stroke="#000" stroke-width="1.1"/>
<polygon points="239.6,238.2 243.1,244.8 236.1,244.8" fill="#fff" stroke="#000" stroke-width="1.1"/>
<polygon points="254.8,247.8 258.3,254.4 251.3,254.4" fill="#fff" stroke="#000" stroke-width="1.1"/>
<polygon points="270.3,252.5 273.8,259.1 266.8,259.1" fill="#fff" stroke="#000" stroke-width="1.1"/>
<rect x="190.0" y="188.9" width="6.6" height="6.6" fill="#000"/>
<rect x="205.3" y="192.8" width="6.6" height="6.6" fill="#000"/>
<rect x="221.2" y="192.1" width="6.6" height="6.6" fill="#000"/>
<rect x="236.3" y="208.7" width="6.6" height="6.6" fill="#000"/>
<rect x="251.5" y="227.3" width="6.6" height="6.6" fill="#000"/>
<rect x="267.0" y="243.5" width="6.6" height="6.6" fill="#000"/>
</g>
</svg>
</body></html>
